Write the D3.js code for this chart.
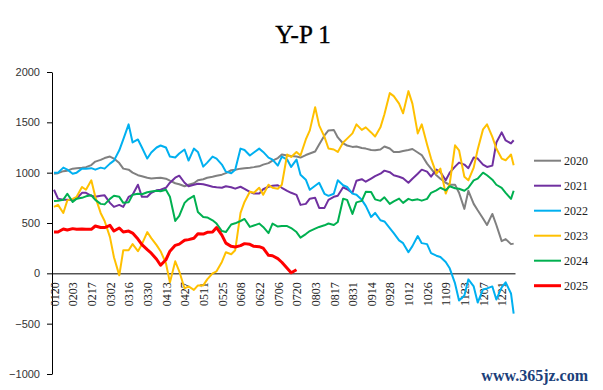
<!DOCTYPE html>
<html>
<head>
<meta charset="utf-8">
<style>
body { margin: 0; background: #fff; }
</style>
</head>
<body>
<script src="https://d3js.org/d3.v7.min.js"></script>
<script>
// sample dates (MMDD), shared by every year
var dates = ["0120","0123","0127","0130",
  "0203","0206","0210","0213","0217","0220","0224","0227",
  "0302","0305","0309","0312","0316","0319","0323","0326","0330",
  "0402","0406","0409","0413","0416","0420","0423","0427","0430",
  "0504","0507","0511","0514","0518","0521","0525","0528",
  "0601","0604","0608","0611","0615","0618","0622","0625","0629",
  "0702","0706","0709","0713","0716","0720","0723","0727","0730",
  "0803","0806","0810","0813","0817","0820","0824","0827","0831",
  "0903","0907","0910","0914","0917","0921","0924","0928",
  "1001","1005","1008","1012","1015","1019","1022","1026","1029",
  "1102","1105","1109","1112","1116","1119","1123","1126","1130",
  "1203","1207","1210","1214","1217","1221","1224","1228","1230"];

var s2020 = [990,995,1015,1020,
  1040,1045,1050,1055,1075,1110,1127,1145,
  1160,1140,1095,1040,1030,1000,975,965,950,
  942,947,950,940,920,895,885,865,880,
  895,924,935,950,960,970,980,995,
  1024,1030,1040,1045,1050,1055,1063,1080,1095,
  1120,1145,1180,1170,1165,1160,1150,1175,1190,
  1210,1280,1370,1420,1425,1350,1290,1270,1256,
  1260,1245,1239,1225,1222,1230,1260,1240,
  1206,1206,1215,1225,1235,1200,1175,1090,1040,
  974,940,900,880,880,800,640,820,690,
  626,545,480,590,480,320,340,290,295];

var s2021 = [830,742,732,730,
  725,742,800,800,770,760,770,775,
  700,660,680,660,759,780,880,760,760,
  800,825,830,850,900,950,970,900,865,
  880,890,885,875,860,855,850,865,
  855,841,860,840,810,792,792,835,860,
  870,875,850,820,800,780,680,690,742,
  750,650,650,730,760,770,855,835,800,
  920,935,910,941,965,990,1020,1005,
  975,960,945,900,940,990,1030,1010,960,
  1030,1007,924,1000,1060,1100,1080,1045,1150,
  1140,1080,1057,1070,1300,1400,1320,1290,1322];

var s2022 = [1000,1000,1050,1030,
  990,1000,1040,1040,1045,1030,1050,1040,
  1090,1120,1222,1330,1480,1300,1330,1250,1140,
  1200,1250,1270,1250,1160,1150,1190,1230,1120,
  1239,1206,1060,1100,1160,1140,1080,1010,
  995,1030,1239,1225,1170,1200,1239,1206,1150,
  1130,1070,1160,1130,1057,1130,980,930,830,
  870,900,790,770,790,924,875,858,792,
  780,730,670,560,600,527,515,450,
  400,328,300,210,270,370,300,290,200,
  175,162,113,50,-100,-270,-220,-60,-130,
  -290,-160,-150,-130,-260,-140,-90,-200,-400];

var s2023 = [660,680,600,725,
  740,760,858,830,924,760,600,520,
  360,160,-20,230,229,290,220,290,410,
  350,280,220,100,-90,120,20,-150,-130,
  -165,-120,-120,-60,0,20,113,210,
  190,230,600,709,810,800,850,780,880,
  850,841,880,1180,1156,1206,1170,1330,1420,
  1650,1470,1355,1240,1230,1206,1300,1338,1390,
  1480,1425,1450,1400,1360,1450,1580,1790,
  1760,1686,1590,1810,1686,1390,1480,1280,1140,
  990,1040,792,890,1272,1222,960,924,1050,
  1230,1430,1480,1355,1240,1140,1123,1180,1073];

var s2024 = [719,722,732,790,
  710,742,750,765,775,730,690,685,
  740,770,760,700,705,780,790,785,805,
  812,820,815,830,760,520,570,700,738,
  770,610,560,555,527,494,420,410,
  485,497,520,540,461,475,494,461,400,
  494,465,470,470,450,410,355,390,420,
  444,461,477,495,480,510,740,730,590,
  705,720,810,808,735,720,755,690,
  715,742,700,740,725,735,722,740,800,
  825,850,825,865,845,840,820,850,924,
  941,1000,974,930,880,850,800,740,820];

var s2025 = [411,410,440,430,
  444,437,440,437,437,470,455,455,
  477,420,450,411,420,400,340,285,235,
  200,140,80,135,220,278,290,328,335,
  348,394,390,408,410,455,380,300,
  268,262,275,295,288,268,265,250,179,
  175,146,110,50,5,36,null,null,null,
  null,null,null,null,null,null,null,null,null,
  null,null,null,null,null,null,null,null,
  null,null,null,null,null,null,null,null,null,
  null,null,null,null,null,null,null,null,null,
  null,null,null,null,null,null,null,null,null];

var years = ["2020","2021","2022","2023","2024","2025"];
var yTicks = [-1000,-500,0,500,1000,1500,2000];
var xTickLabels = ["0120","0203","0217","0302","0316","0330","0413","0427","0511","0525",
  "0608","0622","0706","0720","0803","0817","0831","0914","0928","1012",
  "1026","1109","1123","1207","1221"];

var allSeries = [s2020, s2021, s2022, s2023, s2024, s2025];
var colors = ["#808080","#7030A0","#00B0F0","#FFC000","#00B050","#FF0000"];

// map MMDD onto a common leap year so every year shares the axis
var parse = d3.timeParse("%Y%m%d");
function toDate(md) { return parse("2024" + md); }

var width = 603, height = 390;
var svg = d3.select("body").append("svg")
    .attr("width", width)
    .attr("height", height);

var x = d3.scaleTime()
    .domain([new Date(2024, 0, 18, 12), new Date(2024, 11, 31)])
    .range([52, 515]);
var y = d3.scaleLinear()
    .domain([-1000, 2000])
    .range([374, 72]);

// title
svg.append("text")
    .attr("x", 303)
    .attr("y", 43)
    .attr("text-anchor", "middle")
    .style("font-family", "'Liberation Serif', 'Times New Roman', serif")
    .style("font-size", "25px")
    .style("fill", "#000")
    .style("stroke", "#000")
    .style("stroke-width", "0.4px")
    .text("Y-P 1");

// y axis
var yAxis = svg.append("g")
    .attr("transform", "translate(52,0)")
    .call(d3.axisLeft(y).tickValues(yTicks).tickSize(5).tickSizeOuter(0).tickPadding(7)
      .tickFormat(d3.format("d")));
yAxis.selectAll("path, line").attr("stroke", "#000");
yAxis.selectAll("text")
    .style("font-family", "'Liberation Sans', Arial, sans-serif")
    .style("font-size", "11px")
    .style("fill", "#333");

// x axis sits on the zero line, labels turned upright
var xAxis = svg.append("g")
    .attr("transform", "translate(0," + y(0) + ")")
    .call(d3.axisBottom(x).tickValues(xTickLabels.map(toDate)).tickSize(0).tickSizeOuter(0)
      .tickFormat(d3.timeFormat("%m%d")));
xAxis.select(".domain").attr("stroke", "#000");
xAxis.selectAll("text")
    .attr("x", -9)
    .attr("y", 0)
    .attr("dy", "0.35em")
    .attr("transform", "rotate(-90)")
    .style("text-anchor", "end")
    .style("font-family", "'Liberation Serif', 'Times New Roman', serif")
    .style("font-size", "12px")
    .style("fill", "#222");

// lines
var line = d3.line()
    .defined(function(d) { return d != null; })
    .x(function(d, i) { return x(toDate(dates[i])); })
    .y(function(d) { return y(d); });

allSeries.forEach(function(s, i) {
    svg.append("path")
        .datum(s)
        .attr("fill", "none")
        .attr("stroke", colors[i])
        .attr("stroke-width", i == 5 ? 3 : 2)
        .attr("stroke-linejoin", "round")
        .attr("d", line);
});

// legend
var legend = svg.append("g");
years.forEach(function(yr, i) {
    var ly = 160.7 + i * 25;
    legend.append("line")
        .attr("x1", 534).attr("x2", 561)
        .attr("y1", ly).attr("y2", ly)
        .attr("stroke", colors[i])
        .attr("stroke-width", i == 5 ? 3 : 2);
    legend.append("text")
        .attr("x", 564)
        .attr("y", ly)
        .attr("dy", "0.35em")
        .style("font-family", "'Liberation Serif', 'Times New Roman', serif")
        .style("font-size", "12px")
        .style("fill", "#222")
        .text(yr);
});

// watermark
svg.append("text")
    .attr("x", 588)
    .attr("y", 381)
    .attr("text-anchor", "end")
    .style("font-family", "'Liberation Serif', 'Times New Roman', serif")
    .style("font-weight", "bold")
    .style("font-size", "16px")
    .style("fill", "#1b3f7a")
    .text("www.365jz.com");
</script>
</body>
</html>
